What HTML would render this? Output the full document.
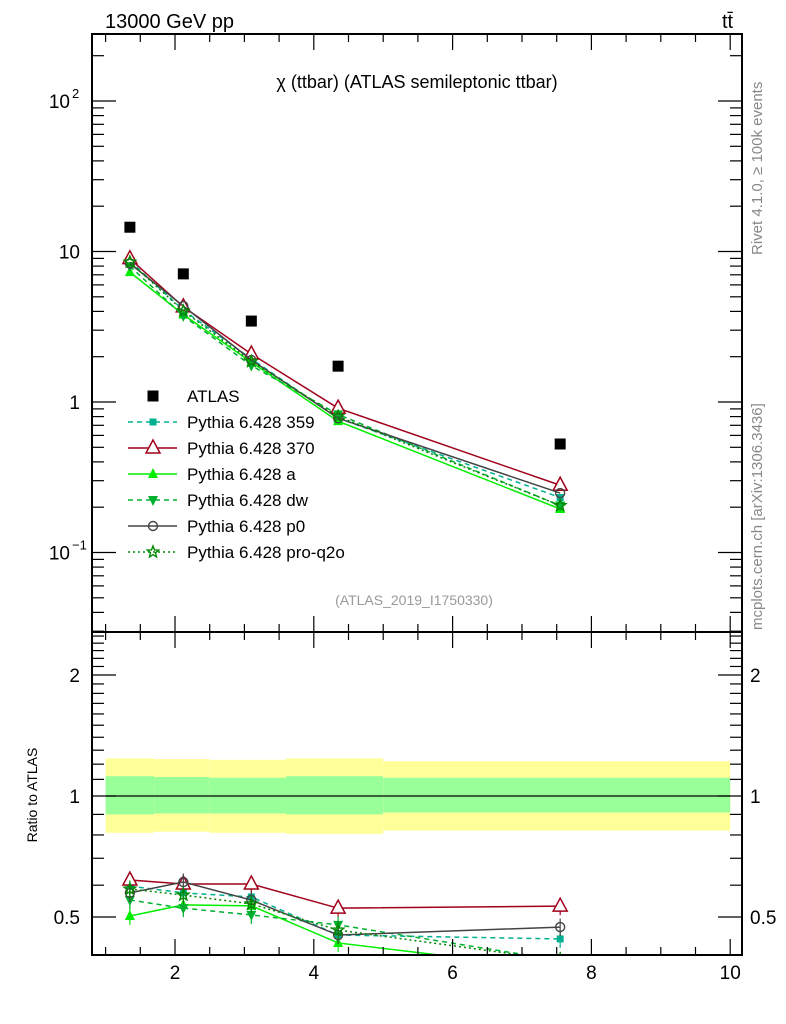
<!DOCTYPE html>
<html><head><meta charset="utf-8"><style>
body{margin:0;background:#fff;}
svg{display:block;font-family:"Liberation Sans",sans-serif;}
</style></head><body>
<svg id="c" width="786" height="1024" viewBox="0 0 786 1024" xmlns="http://www.w3.org/2000/svg">
<text x="105" y="28" font-size="20">13000 GeV pp</text>
<text x="722" y="28" font-size="20">tt̄</text>
<text x="417" y="88" font-size="18" text-anchor="middle">χ (ttbar) (ATLAS semileptonic ttbar)</text>
<text x="414" y="605" font-size="14" fill="#999" text-anchor="middle">(ATLAS_2019_I1750330)</text>
<text transform="translate(762,255) rotate(-90)" font-size="15" fill="#888">Rivet 4.1.0, ≥ 100k events</text>
<text transform="translate(762,630) rotate(-90)" font-size="15" fill="#888">mcplots.cern.ch [arXiv:1306.3436]</text>
<text transform="translate(37,795) rotate(-90)" font-size="14" text-anchor="middle">Ratio to ATLAS</text>
<g id="g"></g>
</svg>
<script>
const xCenters=[1.35,2.12,3.1,4.35,7.55];
const binEdges=[1.0,1.7,2.5,3.6,5.0,10.0];
const atlasVals=[14.5,7.1,3.45,1.73,0.526];
const bandInnerUp=[1.12,1.115,1.11,1.12,1.11];
const bandInnerDn=[0.90,0.905,0.905,0.90,0.91];
const bandOuterUp=[1.24,1.235,1.23,1.24,1.22];
const bandOuterDn=[0.81,0.815,0.81,0.805,0.82];
const r359=[0.597,0.574,0.561,0.451,0.441];
const r370=[0.618,0.604,0.604,0.526,0.532];
const rA=[0.503,0.536,0.533,0.431,0.37];
const rDw=[0.551,0.526,0.506,0.478,0.39];
const rP0=[0.574,0.611,0.551,0.451,0.472];
const rQ2o=[0.587,0.567,0.539,0.464,0.39];
const mainYTicks=[0.1,1,10,100];
const mainYLabels=["10","1","10","10"];
const ratioYTicks=[0.5,1,2];
const ratioYLabels=["0.5","1","2"];
const xTicks=[2,4,6,8,10];

const L=92,R=742,T=34,M=632,B=955;
const X=v=>105.6+(v-1)*69.4;
const Ym=v=>402-Math.log10(v)*150.5;
const Yr=v=>796-Math.log10(v)*402;
const NS="http://www.w3.org/2000/svg";
const g=document.getElementById('g');
function el(t,a,p){const e=document.createElementNS(NS,t);for(const k in a)e.setAttribute(k,a[k]);(p||g).appendChild(e);return e;}

for(let i=0;i<xCenters.length;i++){
 const x0=X(binEdges[i]),x1=X(binEdges[i+1]);
 const b=el('rect',{x:x0,y:Yr(bandOuterUp[i]),width:x1-x0,height:Yr(bandOuterDn[i])-Yr(bandOuterUp[i]),fill:'#ffff99'});
 
 
 const c=el('rect',{x:x0,y:Yr(bandInnerUp[i]),width:x1-x0,height:Yr(bandInnerDn[i])-Yr(bandInnerUp[i]),fill:'#99ff99'});
 
 
}
const one=el('line',{x1:X(binEdges[0]),x2:X(binEdges[5]),y1:Yr(1),y2:Yr(1),stroke:'#000','stroke-width':1.2});



const defs=el('defs',{});
const cp1=el('clipPath',{id:'cm'},defs);el('rect',{x:L,y:T,width:R-L,height:M-T},cp1);
const cp2=el('clipPath',{id:'cr'},defs);el('rect',{x:L,y:M,width:R-L,height:B-M},cp2);

function marker(p,type,color,x,y,name){
 let e;
 if(type==='sq')e=el('rect',{x:x-3.5,y:y-3.5,width:7,height:7,fill:color},p);
 else if(type==='bsq')e=el('rect',{x:x-5.5,y:y-5.5,width:11,height:11,fill:color},p);
 else if(type==='otri')e=el('path',{d:`M${x},${y-8}L${x+7},${y+5}L${x-7},${y+5}Z`,fill:'#fff',stroke:color,'stroke-width':1.5},p);
 else if(type==='tri')e=el('path',{d:`M${x},${y-6}L${x+5},${y+4}L${x-5},${y+4}Z`,fill:color},p);
 else if(type==='itri')e=el('path',{d:`M${x},${y+6}L${x+5},${y-4}L${x-5},${y-4}Z`,fill:color},p);
 else if(type==='circ')e=el('circle',{cx:x,cy:y,r:4.5,fill:'none',stroke:color,'stroke-width':1.4},p);
 else if(type==='star'){let d='';for(let k=0;k<10;k++){const a=-Math.PI/2+k*Math.PI/5,r=k%2?2.6:6;d+=(k?'L':'M')+(x+r*Math.cos(a)).toFixed(1)+','+(y+r*Math.sin(a)).toFixed(1);}e=el('path',{d:d+'Z',fill:'none',stroke:color,'stroke-width':1.4},p);}
 
 
 return e;
}
const series=[
 {r:r359,c:'#00b090',dash:'5,4',m:'sq',n:'Pythia 6.428 359',id:'359'},
 {r:r370,c:'#a0001c',dash:'',m:'otri',n:'Pythia 6.428 370',id:'370'},
 {r:rA,c:'#00ee00',dash:'',m:'tri',n:'Pythia 6.428 a',id:'a'},
 {r:rDw,c:'#00b030',dash:'5,4',m:'itri',n:'Pythia 6.428 dw',id:'dw'},
 {r:rP0,c:'#444444',dash:'',m:'circ',n:'Pythia 6.428 p0',id:'p0'},
 {r:rQ2o,c:'#008800',dash:'2,3',m:'star',n:'Pythia 6.428 pro-q2o',id:'pro-q2o'}
];
const gm=el('g',{'clip-path':'url(#cm)'});const gr=el('g',{'clip-path':'url(#cr)'});
series.forEach(s=>{
 const mv=s.r.map((r,i)=>r*atlasVals[i]);
 const pm=el('polyline',{points:xCenters.map((x,i)=>X(x)+','+Ym(mv[i])).join(' '),fill:'none',stroke:s.c,'stroke-width':1.5,'stroke-dasharray':s.dash},gm);
 
 
 const pr=el('polyline',{points:xCenters.map((x,i)=>X(x)+','+Yr(s.r[i])).join(' '),fill:'none',stroke:s.c,'stroke-width':1.5,'stroke-dasharray':s.dash},gr);
 
 
 xCenters.forEach((x,i)=>{
  marker(gm,s.m,s.c,X(x),Ym(mv[i]),'point-main-'+s.id);
  const e=el('line',{x1:X(x),x2:X(x),y1:Yr(s.r[i]*1.05),y2:Yr(s.r[i]*0.95),stroke:s.c,'stroke-width':1.2},gr);
  
  
  marker(gr,s.m,s.c,X(x),Yr(s.r[i]),'point-ratio-'+s.id);
 });
});
xCenters.forEach((x,i)=>marker(gm,'bsq','#000',X(x),Ym(atlasVals[i]),'point-atlas'));

const lg=el('g',{});
marker(lg,'bsq','#000',153,396,'legend-marker-atlas');
let t=el('text',{x:187,y:402,'font-size':17},lg);t.textContent='ATLAS';


series.forEach((s,k)=>{
 const y=422+k*26;
 el('line',{x1:128,x2:177,y1:y,y2:y,stroke:s.c,'stroke-width':1.5,'stroke-dasharray':s.dash},lg);
 marker(lg,s.m,s.c,153,y,'legend-marker-'+s.id);
 const tt=el('text',{x:187,y:y+6,'font-size':17},lg);tt.textContent=s.n;
 
 
});

const f1=el('rect',{x:L,y:T,width:R-L,height:M-T,fill:'none',stroke:'#000','stroke-width':2});

const f2=el('rect',{x:L,y:M,width:R-L,height:B-M,fill:'none',stroke:'#000','stroke-width':2});


for(let v=1;v<=10.01;v+=0.5){
 const maj=Math.abs(v-Math.round(v/2)*2)<1e-6;const h=maj?16:8;const x=X(v);
 [[T,1],[M,-1],[M,1],[B,-1]].forEach(([y,d])=>el('line',{x1:x,x2:x,y1:y,y2:y+d*h,stroke:'#000','stroke-width':1.2}));
}
xTicks.forEach(v=>{const tx=el('text',{x:X(v),y:979,'font-size':19,'text-anchor':'middle'});tx.textContent=v;
 });

for(let e=-2;e<=2;e++)for(let m=1;m<10;m++){const v=m*Math.pow(10,e);const y=Ym(v);if(y<T||y>M)continue;const h=m===1?24:12;
 el('line',{x1:L,x2:L+h,y1:y,y2:y,stroke:'#000','stroke-width':1.2});el('line',{x1:R,x2:R-h,y1:y,y2:y,stroke:'#000','stroke-width':1.2});}
mainYTicks.forEach((v,i)=>{const y=Ym(v);const tx=el('text',{x:v===10?80:(v===1?80:70),y:y+7,'font-size':19,'text-anchor':'end'});tx.textContent=mainYLabels[i];
 
 if(v!==1&&v!==10){const s=el('text',{x:72,y:y-3,'font-size':13});s.textContent=v===100?'2':'−1';}});

for(let v=0.4;v<=2.6;v+=0.1){const y=Yr(v);if(y<M||y>B)continue;const maj=[0.5,1,2].some(q=>Math.abs(q-v)<1e-6);const h=maj?24:12;
 el('line',{x1:L,x2:L+h,y1:y,y2:y,stroke:'#000','stroke-width':1.2});el('line',{x1:R,x2:R-h,y1:y,y2:y,stroke:'#000','stroke-width':1.2});}
ratioYTicks.forEach((v,i)=>{const y=Yr(v)+7;
 const a=el('text',{x:80,y:y,'font-size':19,'text-anchor':'end'});a.textContent=ratioYLabels[i];
 
 const b=el('text',{x:750,y:y,'font-size':19});b.textContent=ratioYLabels[i];
 });
</script>
</body></html>
